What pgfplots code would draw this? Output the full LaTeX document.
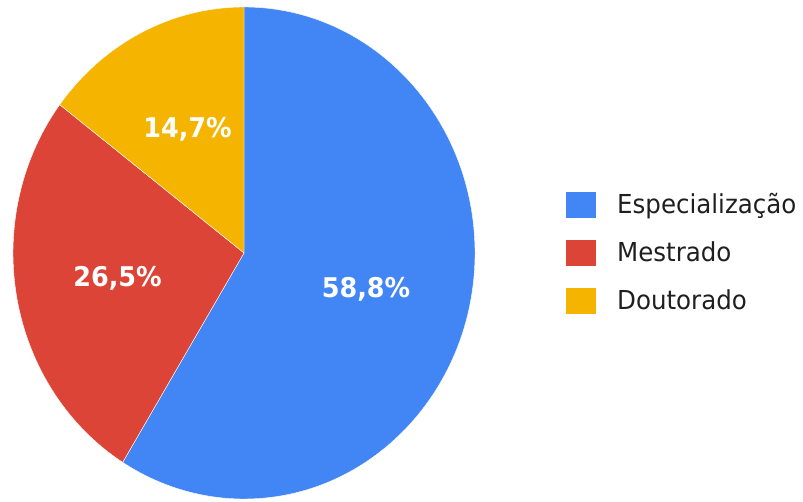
\documentclass[border=0pt]{standalone}
\usepackage{graphicx}
\usepackage{pgfplots}
\pgfplotsset{compat=1.18}
\usepackage{fontspec}
\setmainfont{DejaVu Sans}
\definecolor{gblue}{HTML}{4285F4}
\definecolor{gred}{HTML}{DB4437}
\definecolor{gyellow}{HTML}{F4B400}
\newcommand{\st}[1]{\scalebox{1}[1.065]{#1}}
\begin{document}
\begin{tikzpicture}
% shares (percent)
\def\vA{58.8}% Especialização
\def\vB{26.5}% Mestrado
\def\vC{14.7}% Doutorado
\pgfmathsetmacro\sA{90}
\pgfmathsetmacro\eA{90-3.6*\vA}
\pgfmathsetmacro\eB{\eA-3.6*\vB}
\pgfmathsetmacro\eC{\eB-3.6*\vC}
\def\rx{231}
\def\ry{246}
\begin{axis}[
  at={(0pt,0pt)}, anchor=south west,
  x=1pt, y=1pt, scale only axis,
  xmin=-244, xmax=559, ymin=-249, ymax=253,
  hide axis, clip=false,
]
\fill[gblue, draw=white, line width=0.4pt] (axis cs:0,0) -- (axis cs:{\rx*cos(\sA)},{\ry*sin(\sA)})
  arc[start angle=\sA, end angle=\eA, x radius=\rx pt, y radius=\ry pt] -- cycle;
\fill[gred, draw=white, line width=0.4pt] (axis cs:0,0) -- (axis cs:{\rx*cos(\eA)},{\ry*sin(\eA)})
  arc[start angle=\eA, end angle=\eB, x radius=\rx pt, y radius=\ry pt] -- cycle;
\fill[gyellow, draw=white, line width=0.4pt] (axis cs:0,0) -- (axis cs:{\rx*cos(\eB)},{\ry*sin(\eB)})
  arc[start angle=\eB, end angle=\eC, x radius=\rx pt, y radius=\ry pt] -- cycle;
\end{axis}
% percentage labels
\begin{scope}[every node/.style={inner sep=0pt, text=white, font=\fontsize{25.5}{30}\selectfont\bfseries, anchor=base}]
\node at (366pt,204pt) {\st{58,8\%}};
\node at (117.5pt,215pt) {\st{26,5\%}};
\node at (187.5pt,364pt) {\st{14,7\%}};
\end{scope}
% legend
\fill[gblue] (566pt,284pt) rectangle (596pt,310pt);
\fill[gred] (566pt,236pt) rectangle (596pt,262pt);
\fill[gyellow] (566pt,188pt) rectangle (596pt,214pt);
\begin{scope}[every node/.style={inner sep=0pt, text=black!88, font=\fontsize{24.5}{30}\selectfont, anchor=base west}]
\node at (617pt,288pt) {\st{Especialização}};
\node at (617pt,240pt) {\st{Mestrado}};
\node at (617pt,192pt) {\st{Doutorado}};
\end{scope}
\path (0,0) rectangle (803pt,502pt);
\end{tikzpicture}
\end{document}
